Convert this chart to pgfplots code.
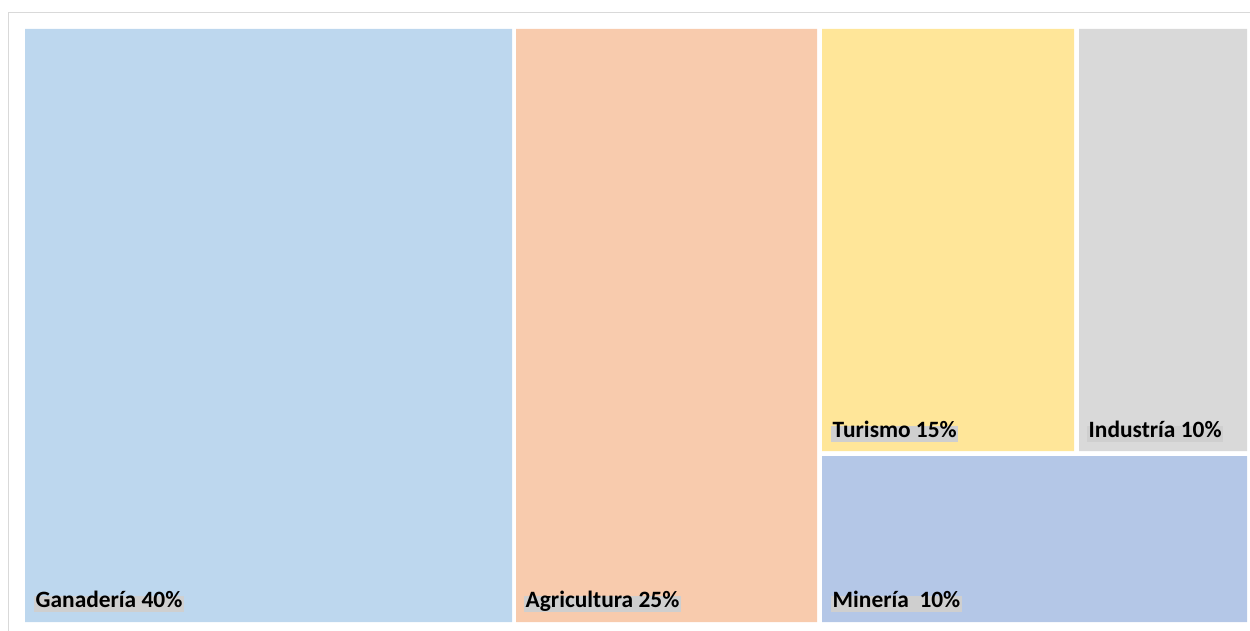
\documentclass[border=0pt]{standalone}
\usepackage{pgfplots}
\pgfplotsset{compat=1.18}
\usepackage{fontspec}
\setmainfont{Carlito}
\definecolor{cGan}{HTML}{BDD7EE}
\definecolor{cAgr}{HTML}{F8CBAD}
\definecolor{cTur}{HTML}{FFE699}
\definecolor{cInd}{HTML}{D9D9D9}
\definecolor{cMin}{HTML}{B4C7E7}
\definecolor{cLab}{HTML}{CFCFCF}
\definecolor{cFrame}{HTML}{D9D9D9}
\tikzset{lab/.style={fill=cLab, font=\fontsize{23.5}{28}\selectfont\bfseries, text=black,
    inner xsep=1.5bp, inner ysep=3.5bp, text height=0.79em, text depth=0.1em, anchor=base west}}
\begin{document}
\begin{tikzpicture}
\begin{axis}[
  width=1250bp, height=631bp, scale only axis,
  xmin=0, xmax=1250, ymin=0, ymax=631, y dir=reverse,
  hide axis, clip=false,
]
\path[use as bounding box] (axis cs:0,0) rectangle (axis cs:1250,631);
% frame
\draw[cFrame, line width=1bp] (axis cs:8.5,631) -- (axis cs:8.5,12.5) -- (axis cs:1250,12.5);
% Ganadería 40%
\addplot[fill=cGan, draw=none] coordinates {(25,29) (512,29) (512,622) (25,622) (25,29)};
% Agricultura 25%
\addplot[fill=cAgr, draw=none] coordinates {(516,29) (817,29) (817,622) (516,622) (516,29)};
% Turismo 15%
\addplot[fill=cTur, draw=none] coordinates {(822,29) (1074,29) (1074,451) (822,451) (822,29)};
% Industria 10%
\addplot[fill=cInd, draw=none] coordinates {(1079,29) (1247,29) (1247,451) (1079,451) (1079,29)};
% Mineria 10%
\addplot[fill=cMin, draw=none] coordinates {(822,456) (1247,456) (1247,622) (822,622) (822,456)};
\node[lab] at (axis cs:34,607) {Ganadería 40\%};
\node[lab] at (axis cs:524,607) {Agricultura 25\%};
\node[lab] at (axis cs:831,437) {Turismo 15\%};
\node[lab] at (axis cs:1087,437) {Industría 10\%};
\node[lab] at (axis cs:831,607) {Minería\ \ 10\%};
\end{axis}
\end{tikzpicture}
\end{document}
